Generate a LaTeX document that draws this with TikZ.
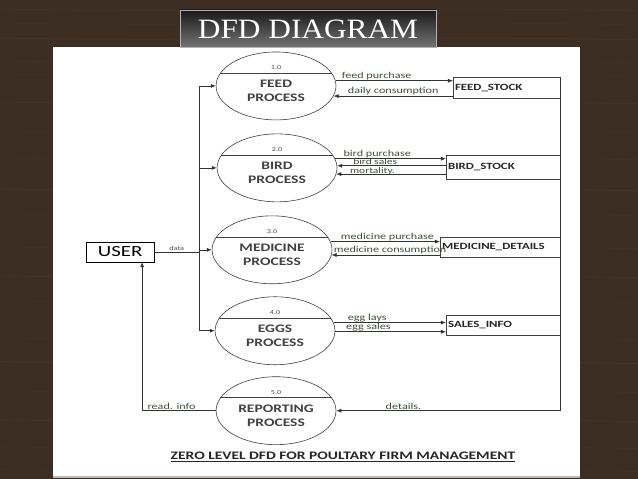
\documentclass[tikz,border=0pt]{standalone}
\usepackage{fontspec}
\setmainfont{Carlito}[FakeStretch=1.35]
\newfontfamily\titlefont{Liberation Serif}[FakeStretch=1.12]
\usepackage{tikz}
\usetikzlibrary{shapes.geometric}
\usetikzlibrary{arrows.meta}
\definecolor{wood}{RGB}{61,46,36}
\definecolor{woodgrain}{RGB}{96,78,60}
\definecolor{flowtext}{RGB}{62,78,56}
\def\largeur{638}
\def\hauteur{479}

\begin{document}
\begin{tikzpicture}[x=1pt, y=-1pt,
	proc/.style={draw=black!75, line width=0.6pt, ellipse, minimum width=120pt, minimum height=68pt, inner sep=0pt},
	pname/.style={font=\bfseries\fontsize{11.5}{13.5}\selectfont, align=center, text=black!75},
	pnum/.style={font=\fontsize{6}{7}\selectfont, text=black!70},
	store/.style={anchor=west, align=left, inner sep=2pt, font=\bfseries\fontsize{9.5}{11}\selectfont, text=black!85},
	flow/.style={-{Latex[length=5pt,width=4pt]}, draw=black!80, line width=0.6pt},
	lbl/.style={font=\fontsize{9}{10}\selectfont, text=flowtext, inner sep=0.5pt, above}]
	%\draw[step=10, line width=0.1pt, black!20] (0,0) grid (\largeur,\hauteur);
	\fill[wood] (0,0) rectangle (\largeur,\hauteur);
	\foreach \y/\o in {9/.3, 23/.15, 38/.35, 61/.2, 74/.15, 102/.3, 131/.15, 158/.2, 189/.35, 214/.15, 247/.2, 276/.3, 301/.15, 338/.2, 362/.35, 391/.15, 420/.3, 447/.2, 470/.15}
		\draw[woodgrain, opacity=\o, line width=0.5pt] (0,\y) .. controls (200,\y+4) and (420,\y-3) .. (\largeur,\y+2);
	\fill[white] (53,47) rectangle (580,477);
	\draw[gray!55, line width=1.5pt] (53,477.5) -- (580,477.5);
	\shade[top color=black!90, bottom color=black!55, draw=gray!60] (180,10) rectangle (436,47);
	\node[text=white, font=\titlefont\fontsize{28}{30}\selectfont] (titre) at (308,29.5) {DFD DIAGRAM};

	\foreach \nom/\cx/\cy/\nr/\txt in {feed/276/86/1.0/FEED, bird/277/168/2.0/BIRD, med/272/250/3.0/MEDICINE, eggs/275/331/4.0/EGGS, rep/276/411/5.0/REPORTING}{
		\node[proc] (\nom) at (\cx,\cy) {};
		\draw[black!75, line width=0.6pt] (\nom.167) -- (\nom.13);
		\node[pnum] (\nom-nr) at ([yshift=18pt]\nom.center) {\nr};
		\node[pname] (\nom-txt) at ([yshift=-5pt]\nom.center) {\txt\\PROCESS};
	}

	\node[draw, line width=0.6pt, font=\fontsize{15.5}{17}\selectfont, minimum width=68pt, minimum height=20pt, inner sep=0pt] (user) at (120,252) {USER};

	\node[store, text width=103pt, minimum height=21pt] (fstock) at (453,88) {FEED\_STOCK};
	\node[store, text width=110pt, minimum height=23pt] (bstock) at (446,167.5) {BIRD\_STOCK};
	\node[store, text width=116pt, minimum height=19pt] (mdetails) at (440,247.5) {MEDICINE\_DETAILS};
	\node[store, text width=110pt, minimum height=19pt] (sinfo) at (446,325.5) {SALES\_INFO};
	\foreach \s in {fstock,bstock,mdetails,sinfo}
		\draw[black!75, line width=0.6pt] (\s.north east) -- (\s.north west) -- (\s.south west) -- (\s.south east);

	\coordinate (bus) at (199,0);
	\coordinate (up) at (142,0);
	\draw[black!80, line width=0.6pt] (feed.west -| bus) -- (eggs.west -| bus);
	\draw[black!80, line width=0.6pt] (user.east) -- node[lbl, font=\fontsize{6}{7}\selectfont] (ldata) {data} (user.east -| bus);
	\foreach \p in {feed,bird,med,eggs}
		\draw[flow] (\p.west -| bus) -- (\p.west);
	\draw[flow] (rep.west) -- node[lbl, pos=.6] (lread) {read. info} (rep.west -| up) -- (user.south -| up);
	\draw[flow] (fstock.north east) -- (fstock.north east |- rep.east) -- node[lbl, pos=.7] (ldetails) {details.} (rep.east);

	\draw[flow] (feed.5) -- node[lbl, pos=.35] (lfeedbuy) {feed purchase} (feed.5 -| fstock.west);
	\draw[flow] (fstock.west |- feed.350) -- node[lbl, pos=.5] (ldaily) {daily consumption} (feed.350);
	\draw[flow] (bird.9) -- node[lbl, pos=.38] (lbirdbuy) {bird purchase} (bird.9 -| bstock.west);
	\draw[flow] (bstock.west |- bird.2) -- node[lbl, pos=.65, font=\fontsize{8.5}{9}\selectfont, text depth=0pt] (lbirdsale) {bird sales} (bird.2);
	\draw[flow] (bstock.west |- bird.354) -- node[lbl, pos=.67, font=\fontsize{8.5}{9}\selectfont, text depth=0pt, text height=5.5pt] (ldeath) {mortality.} (bird.354);
	\draw[flow] (med.8) -- node[lbl, pos=.52] (lmedbuy) {medicine purchase} (med.8 -| mdetails.west);
	\draw[flow] (mdetails.west |- med.355) -- node[lbl, pos=.46] (lmeduse) {medicine consumption} (med.355);
	\draw[flow] (eggs.8) -- node[lbl, pos=.3] (leggslay) {egg lays} (eggs.8 -| sinfo.west);
	\draw[flow] (eggs.359) -- node[lbl, pos=.3] (leggsale) {egg sales} (eggs.359 -| sinfo.west);

	\node[font=\bfseries\fontsize{11.5}{13}\selectfont, text=black!85] (legende) at (343,457) {\underline{ZERO LEVEL DFD FOR POULTARY FIRM MANAGEMENT}};
\end{tikzpicture}
\end{document}
